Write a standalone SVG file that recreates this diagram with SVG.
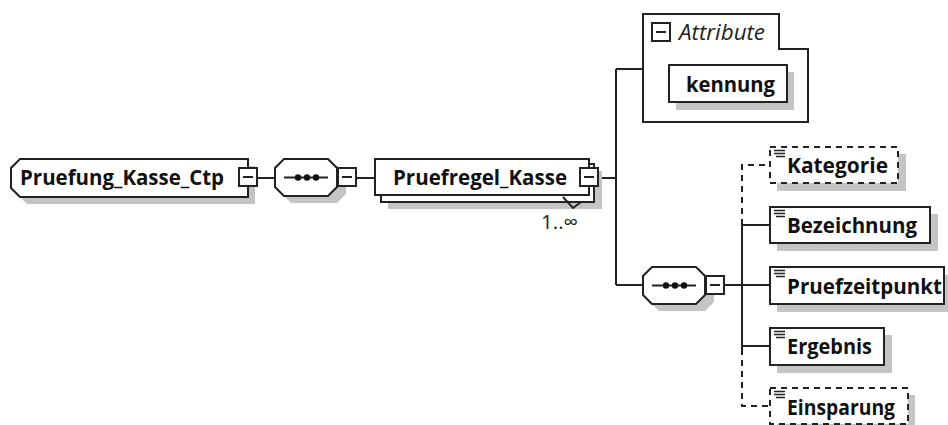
<svg xmlns="http://www.w3.org/2000/svg" width="948" height="425" viewBox="0 0 948 425">
<style>
.s{fill:#c4c4c4;stroke:none}
.b{fill:#fff;stroke:#222;stroke-width:2}
.d{fill:#fff;stroke:#222;stroke-width:2;stroke-dasharray:6 5}
.l{fill:none;stroke:#222;stroke-width:2}
.ld{fill:none;stroke:#222;stroke-width:2;stroke-dasharray:6 5}
.t{font-family:"Open Sans","Noto Sans","Liberation Sans",sans-serif;font-weight:700;font-size:20.500px;fill:#111}
.r{font-family:"Open Sans","Noto Sans","Liberation Sans",sans-serif;fill:#222}
.i{fill:none;stroke:#222;stroke-width:1.5}
.dot{fill:#111}
</style>
<defs>
<g id="minus"><rect class="b" x="0" y="0" width="18" height="18"/><path class="l" d="M4 9H14" stroke-width="1.4"/></g>
<g id="seq"><path class="s" d="M16 7H62L71 16V35L62 44H16L7 35V16Z"/><path class="b" d="M9 0H53L62 9V28L53 37H9L0 28V9Z"/><path class="l" d="M9 18.500H53"/><circle class="dot" cx="23" cy="18.500" r="3.200"/><circle class="dot" cx="32" cy="18.500" r="3.200"/><circle class="dot" cx="41" cy="18.500" r="3.200"/></g>
<g id="lines"><path class="i" d="M3 2.500H14M3 5.500H14M5 8.500H14"/></g>
</defs>
<g id="connectors">
<path class="l" d="M257 178H275M356 178H375M598 178H616M616 69V285M616 69H643M616 285H643M725 285H770M742 225V349M742 225H770M742 346H770"/>
<path class="ld" d="M742 225V165H770M742 349V406H770"/>
</g>
<g id="Pruefung_Kasse_Ctp">
<path class="s" d="M27 166H255V204H27L18 195V175Z"/>
<path class="b" d="M20 159H248V197H20L11 188V168Z"/>
<text class="t" x="20" y="185" textLength="204" lengthAdjust="spacingAndGlyphs">Pruefung_Kasse_Ctp</text>
<use href="#minus" x="239" y="168"/>
</g>
<g id="seq1">
<use href="#seq" x="275" y="159"/>
<use href="#minus" x="338" y="168"/>
</g>
<g id="Pruefregel_Kasse">
<rect class="s" x="388" y="171" width="214" height="38"/>
<path class="b" d="M381 202V164H594V202Z"/>
<path class="l" d="M563 197L573 208L581 202"/>
<rect class="b" x="375" y="159" width="214" height="36"/>
<text class="t" x="393" y="185" textLength="174" lengthAdjust="spacingAndGlyphs">Pruefregel_Kasse</text>
<use href="#minus" x="580" y="168"/>
<text class="r" x="541" y="229" font-size="20" textLength="37" lengthAdjust="spacingAndGlyphs">1..∞</text>
</g>
<g id="Attribute">
<path class="b" d="M643 14H779V49H808V122H643Z"/>
<use href="#minus" x="652" y="23"/>
<text class="r" x="679" y="40" font-size="21" font-style="italic" textLength="86" lengthAdjust="spacingAndGlyphs">Attribute</text>
</g>
<g id="kennung">
<rect class="s" x="676" y="72" width="118" height="38"/>
<rect class="b" x="669" y="65" width="118" height="37"/>
<text class="t" x="686" y="92" textLength="89" lengthAdjust="spacingAndGlyphs">kennung</text>
</g>
<g id="seq2">
<use href="#seq" x="643" y="267"/>
<use href="#minus" x="706" y="276"/>
</g>
<g id="Kategorie">
<rect class="s" x="777" y="154" width="129" height="37"/>
<rect class="d" x="770" y="147" width="128" height="36"/>
<use href="#lines" x="771" y="148"/>
<text class="t" x="787" y="173" textLength="101" lengthAdjust="spacingAndGlyphs">Kategorie</text>
</g>
<g id="Bezeichnung">
<rect class="s" x="777" y="214" width="161" height="37"/>
<rect class="b" x="770" y="207" width="160" height="36"/>
<use href="#lines" x="771" y="208"/>
<text class="t" x="787" y="233" textLength="130" lengthAdjust="spacingAndGlyphs">Bezeichnung</text>
</g>
<g id="Pruefzeitpunkt">
<rect class="s" x="777" y="275" width="171" height="37"/>
<rect class="b" x="770" y="267" width="174" height="37"/>
<use href="#lines" x="771" y="268"/>
<text class="t" x="787" y="294" textLength="155" lengthAdjust="spacingAndGlyphs">Pruefzeitpunkt</text>
</g>
<g id="Ergebnis">
<rect class="s" x="777" y="335" width="115" height="38"/>
<rect class="b" x="770" y="328" width="114" height="37"/>
<use href="#lines" x="771" y="329"/>
<text class="t" x="787" y="354" textLength="85" lengthAdjust="spacingAndGlyphs">Ergebnis</text>
</g>
<g id="Einsparung">
<rect class="s" x="777" y="395" width="138" height="30"/>
<rect class="d" x="770" y="388" width="138" height="36"/>
<use href="#lines" x="771" y="389"/>
<text class="t" x="787" y="415" textLength="108" lengthAdjust="spacingAndGlyphs">Einsparung</text>
</g>
</svg>
